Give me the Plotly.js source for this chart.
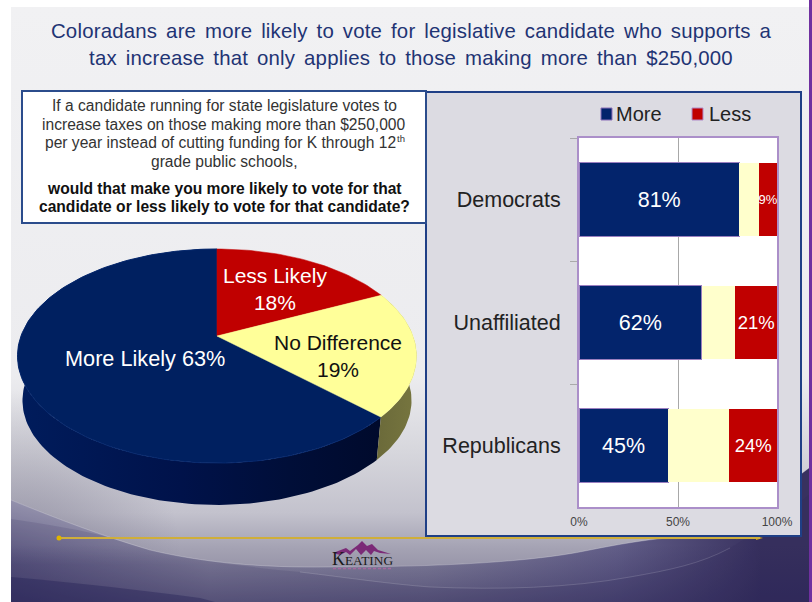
<!DOCTYPE html>
<html>
<head>
<meta charset="utf-8">
<script src="https://cdn.plot.ly/plotly-3.0.1.min.js"></script>
<style>
  html, body { margin: 0; padding: 0; background: #fff; }
  #slide { position: absolute; left: 0; top: 0; width: 812px; height: 602px; overflow: hidden; }
  #slide svg { position: absolute; left: 0; top: 0; }
  #chart { position: absolute; left: 0; top: 0; width: 812px; height: 602px; }
  .gtitle { letter-spacing: 0.2px; word-spacing: 3px; }
</style>
</head>
<body>
<div id="slide">
  <!-- Slide artwork: backdrop, sweeping bands, side strip and logo mountain -->
  <svg width="812" height="602" viewBox="0 0 812 602">
    <defs>
      <linearGradient id="base" gradientUnits="userSpaceOnUse" x1="0" y1="7" x2="0" y2="602">
        <stop offset="0" stop-color="#f1f1f3"/>
        <stop offset="0.62" stop-color="#ecECef"/>
        <stop offset="0.75" stop-color="#d6d6dc"/>
        <stop offset="0.85" stop-color="#c3c2cd"/>
        <stop offset="0.91" stop-color="#a4a2b3"/>
        <stop offset="1" stop-color="#807d96"/>
      </linearGradient>
      <radialGradient id="leftShade" gradientUnits="userSpaceOnUse" cx="11" cy="560" r="170">
        <stop offset="0" stop-color="#6d6a82" stop-opacity="0.55"/>
        <stop offset="1" stop-color="#6d6a82" stop-opacity="0"/>
      </radialGradient>
      <linearGradient id="band" gradientUnits="userSpaceOnUse" x1="11" y1="0" x2="809" y2="0">
        <stop offset="0" stop-color="#5d5982"/>
        <stop offset="0.25" stop-color="#8f8da5"/>
        <stop offset="0.52" stop-color="#84829c"/>
        <stop offset="0.76" stop-color="#625e88"/>
        <stop offset="0.94" stop-color="#38315f"/>
        <stop offset="1" stop-color="#38315f"/>
      </linearGradient>
      <linearGradient id="bandLift" gradientUnits="userSpaceOnUse" x1="0" y1="500" x2="0" y2="565">
        <stop offset="0" stop-color="#ffffff" stop-opacity="0.34"/>
        <stop offset="1" stop-color="#ffffff" stop-opacity="0"/>
      </linearGradient>
      <linearGradient id="bandSink" gradientUnits="userSpaceOnUse" x1="0" y1="545" x2="0" y2="602">
        <stop offset="0" stop-color="#2a2456" stop-opacity="0"/>
        <stop offset="1" stop-color="#2a2456" stop-opacity="0.5"/>
      </linearGradient>
    </defs>
    <rect x="11" y="7" width="798" height="595" fill="url(#base)"/>
    <rect x="11" y="390" width="170" height="212" fill="url(#leftShade)"/>
    <path d="M11,500 C60,520 100,535 150,550 C200,562 260,568 330,567 C400,567 520,565 590,550 C640,540 680,535 708,537 C740,522 780,490 809,468 L809,602 L11,602 Z" fill="url(#band)"/>
    <path d="M11,500 C60,520 100,535 150,550 C200,562 260,568 330,567 L11,602 Z" fill="url(#bandLift)"/>
    <path d="M11,500 C60,520 100,535 150,550 C200,562 260,568 330,567 C400,567 520,565 590,550 C640,540 680,535 708,537 C740,522 780,490 809,468 L809,602 L11,602 Z" fill="url(#bandSink)"/>
    <path d="M11,519 C40,523 70,528 100,535 C120,541 135,546 150,550 C200,562 260,568 300,572 C350,578 390,584 430,587 C500,590 570,588 630,577 C670,570 700,564 730,548 C760,530 790,510 809,495 L809,602 L11,602 Z" fill="#282255" fill-opacity="0.14"/>
    <path d="M11,577 C80,583 140,590 200,598 L215,602 L11,602 Z" fill="#1e1950" fill-opacity="0.35"/>
    <path d="M11,500 C60,520 100,535 150,550 C200,562 260,568 330,567 C400,567 520,565 590,550 C640,540 680,535 708,537 C740,522 780,490 809,468" fill="none" stroke="#fff" stroke-opacity="0.22" stroke-width="1"/>
    <path d="M300,572 C350,578 390,584 430,587 C500,590 570,588 630,577 C670,570 700,564 730,548" fill="none" stroke="#fff" stroke-opacity="0.15" stroke-width="1"/>
    <rect x="809" y="0" width="3" height="602" fill="#7030a0"/>
    <path d="M333,553 L346,548 L350,551 L358,545 L362,541 L367,546 L372,544 L378,550 L391,554 L380,553 L374,551 L371,555 L366,550 L361,555 L356,549 L350,555 L346,552 L340,555 Z" fill="#7b2a77"/>
    <path d="M756,536 L763,538 L756,540 Z" fill="#cfa020"/>
    <path d="M333,568.5 H393" fill="none" stroke="#a8689f" stroke-width="1.5" stroke-dasharray="3 2"/>
  </svg>
  <div id="chart"></div>
</div>
<script>
// Overall vote preference, clockwise from twelve o'clock
const pieLabels = ['Less Likely<br>18%', 'No Difference<br>19%', 'More Likely 63%'];
const pieValues = [18, 19, 63];
const pieColors = ['#c00000', '#ffff99', '#002060'];

// Breakdown by party
const parties = ['Democrats', 'Unaffiliated', 'Republicans'];
const moreValues = [81, 62, 45];
const neutralValues = [10, 17, 31];
const lessValues = [9, 21, 24];
const moreText = ['81%', '62%', '45%'];
const lessText = ['9%', '21%', '24%'];
const lessTextSizes = [13, 18.5, 18.5];
const valueTicks = [0, 50, 100];
const valueTickLabels = ['0%', '50%', '100%'];

const titleText = 'Coloradans are more likely to vote for legislative candidate who supports a<br>tax increase that only applies to those making more than $250,000';
const questionLines = [
  'If a candidate running for state legislature votes to',
  'increase taxes on those making more than $250,000',
  'per year instead of cutting funding for K through 12',
  'grade public schools,'
];
const questionBoldLines = [
  'would that make you more likely to vote for that',
  'candidate or less likely to vote for that candidate?'
];

const W = 812, H = 602;
const px = x => x / W;
const py = y => 1 - y / H;

// Tilted-disc projection: apex of the pie is the origin, units are screen pixels
const APEX = { x: 217, y: 336 };
const TILT = { k: 0.187, rx: 196, ry: 103.3 };
const WALL = { scale: 0.975, drop: 45 };

function project(deg) {
  const t = deg * Math.PI / 180;
  const X = Math.sin(t), Y = Math.cos(t);
  const w = 1 + TILT.k * Y;
  return [TILT.rx * X / w, TILT.ry * Y / w];
}
function sweep(from, to) {
  const pts = [];
  const n = Math.max(2, Math.ceil(Math.abs(to - from) / 1.5));
  for (let i = 0; i <= n; i++) pts.push(project(from + (to - from) * i / n));
  return pts;
}

const total = pieValues.reduce((a, b) => a + b, 0);
let angle = 0;
const slices = pieValues.map((v, i) => {
  const start = angle;
  angle += v / total * 360;
  return { start, end: angle, color: pieColors[i] };
});

function wallTrace(slice, scale) {
  const top = sweep(slice.start, slice.end);
  const low = top.slice().reverse().map(p => [p[0] * WALL.scale, p[1] * WALL.scale - WALL.drop]);
  const ring = top.concat(low);
  ring.push(top[0]);
  return {
    type: 'scatter', mode: 'lines', xaxis: 'x2', yaxis: 'y2',
    x: ring.map(p => p[0]), y: ring.map(p => p[1]),
    fill: 'toself', fillgradient: { type: 'horizontal', colorscale: scale },
    line: { width: 0 }, hoverinfo: 'skip', showlegend: false
  };
}
function faceTrace(slice, edge) {
  const ring = [[0, 0]].concat(sweep(slice.start, slice.end), [[0, 0]]);
  return {
    type: 'scatter', mode: 'lines', xaxis: 'x2', yaxis: 'y2',
    x: ring.map(p => p[0]), y: ring.map(p => p[1]),
    fill: 'toself', fillcolor: slice.color,
    line: { width: edge ? 1 : 0.5, color: edge || slice.color }, hoverinfo: 'skip', showlegend: false
  };
}

const pieTraces = [
  wallTrace(slices[2], [[0, '#001c5c'], [0.45, '#00124a'], [0.75, '#000e38'], [1, '#000a2c']]),
  wallTrace(slices[1], [[0, '#6b6a3a'], [1, '#77763f']]),
  faceTrace(slices[2], '#07296e'),
  faceTrace(slices[0]),
  faceTrace(slices[1])
];

const barBase = { type: 'bar', orientation: 'h', y: parties, xaxis: 'x', yaxis: 'y', hoverinfo: 'x+y' };
const barTraces = [
  Object.assign({}, barBase, {
    name: 'More', x: moreValues, text: moreText, textposition: 'inside',
    insidetextanchor: 'middle', textangle: 0, constraintext: 'none', cliponaxis: false,
    textfont: { family: 'Liberation Sans, Arial, sans-serif', size: 21.5, color: '#ffffff' },
    marker: { color: '#03246c', line: { color: '#9a7fc0', width: 1 } }
  }),
  Object.assign({}, barBase, {
    name: 'No Difference', x: neutralValues,
    marker: { color: '#ffffcc', line: { width: 0 } }
  }),
  Object.assign({}, barBase, {
    name: 'Less', x: lessValues, text: lessText, textposition: 'inside',
    insidetextanchor: 'middle', textangle: 0, constraintext: 'none', cliponaxis: false,
    textfont: { family: 'Liberation Sans, Arial, sans-serif', size: lessTextSizes, color: '#ffffff' },
    marker: { color: '#c00000', line: { width: 0 } }
  })
];

const FONT = 'Liberation Sans, Arial, sans-serif';
const note = (x, y, text, size, color, extra) => Object.assign({
  xref: 'paper', yref: 'paper', x: px(x), y: py(y), text, showarrow: false,
  font: { family: FONT, size, color }, align: 'center', xanchor: 'center', yanchor: 'middle'
}, extra || {});

const questionRows = [105.5, 124, 143, 161.5];
const questionCentres = [224, 224, 220.5, 224];
const boldRows = [188, 206];
const annotations = questionLines.map((line, i) => note(questionCentres[i], questionRows[i], line, 15.6, '#333333'))
  .concat([note(401, 138, 'th', 9.5, '#333333')])
  .concat(questionBoldLines.map((line, i) => note(224, boldRows[i], '<b>' + line + '</b>', 15.6, '#111111')))
  .concat([
    note(275, 289, pieLabels[0], 21, '#ffffff'),
    note(338, 356, pieLabels[1], 21, '#111111'),
    note(144.5, 358, pieLabels[2], 21.7, '#ffffff'),
    note(639, 114, 'More', 20, '#222222'),
    note(729.5, 114, 'Less', 20, '#222222'),
    note(362.5, 559, 'K<span style="font-size:13.3px">EATING</span>', 18, '#1a1a1a', { font: { family: 'Liberation Serif, serif', size: 18, color: '#1a1a1a' } })
  ]);

const rect = (x0, y0, x1, y1, fill, lineColor, lineWidth) => ({
  type: 'rect', layer: 'below', xref: 'paper', yref: 'paper',
  x0: px(x0), y0: py(y0), x1: px(x1), y1: py(y1), fillcolor: fill,
  line: { color: lineColor || 'rgba(0,0,0,0)', width: lineWidth || 0 }
});

const shapes = [
  // gold rule with its end dot
  { type: 'line', layer: 'below', xref: 'paper', yref: 'paper', x0: px(59), y0: py(538), x1: px(760), y1: py(538), line: { color: '#cfae3a', width: 2 } },
  { type: 'circle', layer: 'below', xref: 'paper', yref: 'paper', x0: px(56.5), y0: py(535.5), x1: px(61.5), y1: py(540.5), fillcolor: '#e0b400', line: { width: 0 } },
  // question panel and party panel
  rect(426, 92, 801, 536, '#dcdbe2', '#1f3f86', 2),
  rect(22, 91, 426, 223, '#ffffff', '#2b4c8c', 2),
  // white plotting area of the party bars
  rect(579, 138, 777, 507, '#ffffff'),
  // legend swatches
  rect(601, 108, 612, 120, '#03246c', '#8a6fb8', 1),
  rect(692, 108, 703, 120, '#c00000', '#b08ac8', 1)
];

const layout = {
  width: W, height: H,
  margin: { l: 0, r: 0, t: 0, b: 0 },
  paper_bgcolor: 'rgba(0,0,0,0)',
  plot_bgcolor: 'rgba(0,0,0,0)',
  showlegend: false,
  barmode: 'stack',
  bargap: 0.4,
  title: {
    text: titleText,
    x: px(411), xanchor: 'center', xref: 'paper',
    y: py(38), yanchor: 'middle', yref: 'paper',
    font: { family: FONT, size: 20.4, color: '#1f3474' }
  },
  xaxis: {
    domain: [px(579), px(777)], range: [0, 100], anchor: 'y',
    tickmode: 'array', tickvals: valueTicks, ticktext: valueTickLabels,
    tickfont: { family: FONT, size: 12, color: '#444444' }, ticklabelstandoff: 3,
    ticks: '', showgrid: true, gridcolor: '#a8a8a8', gridwidth: 1, zeroline: false,
    showline: true, linecolor: '#ab8fc9', linewidth: 2, mirror: true, fixedrange: true
  },
  yaxis: {
    domain: [py(507), py(138)], range: [2.5, -0.5], anchor: 'x', type: 'category',
    categoryorder: 'array', categoryarray: parties, tickson: 'boundaries',
    ticks: 'outside', ticklen: 7, tickcolor: '#aaaaaa', tickwidth: 1, ticklabelstandoff: 12,
    tickfont: { family: FONT, size: 21.5, color: '#222222' },
    showgrid: false, zeroline: false,
    showline: true, linecolor: '#ab8fc9', linewidth: 2, mirror: true, fixedrange: true
  },
  xaxis2: { domain: [0, 1], range: [-APEX.x, W - APEX.x], anchor: 'y2', visible: false, fixedrange: true },
  yaxis2: { domain: [0, 1], range: [APEX.y - H, APEX.y], anchor: 'x2', visible: false, fixedrange: true },
  annotations, shapes
};

Plotly.newPlot('chart', barTraces.concat(pieTraces), layout, { displayModeBar: false, responsive: false });
</script>
</body>
</html>
